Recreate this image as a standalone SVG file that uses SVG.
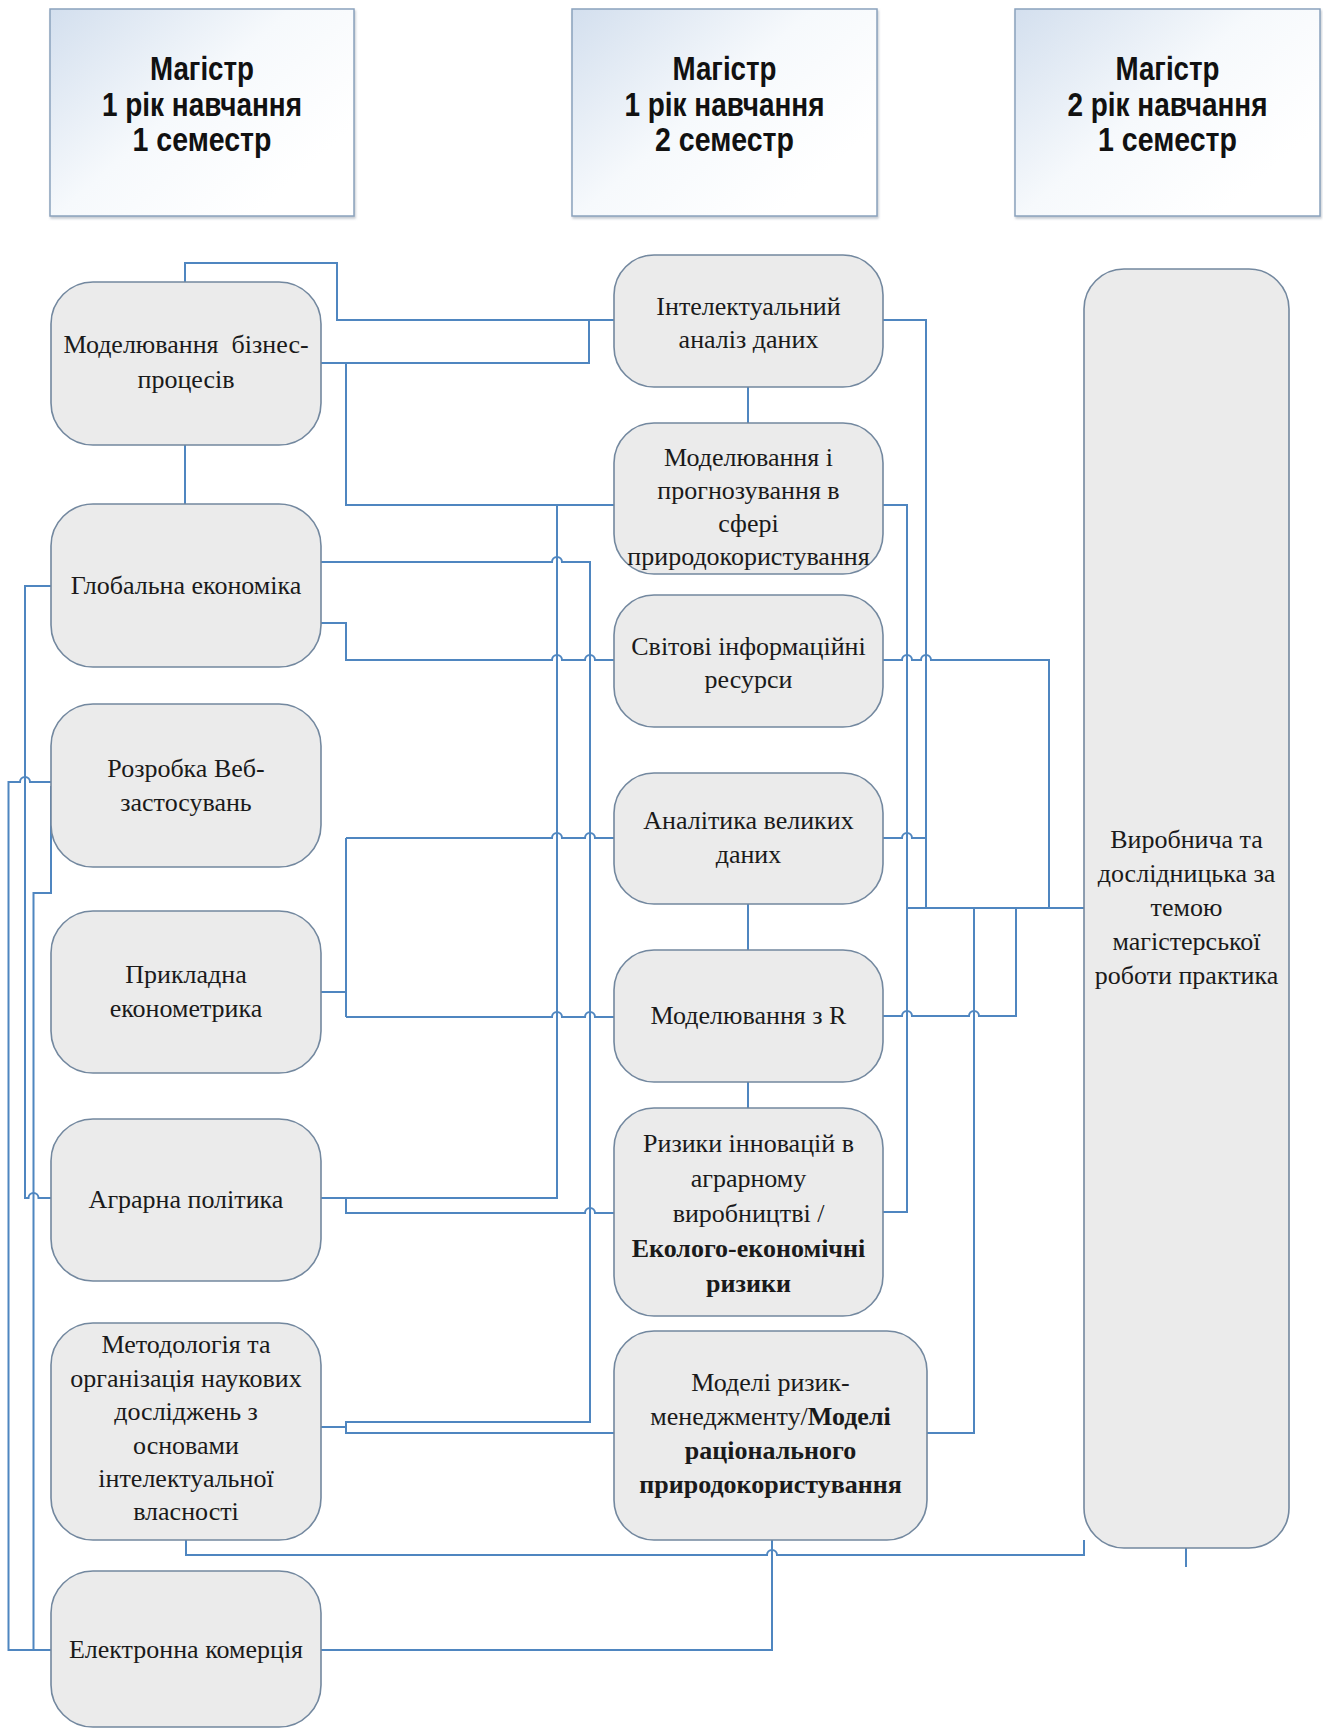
<svg xmlns="http://www.w3.org/2000/svg" width="1323" height="1728" viewBox="0 0 1323 1728">
<style>
.hdr{fill:url(#hg);stroke:#8AA2BD;stroke-width:1.5;filter:url(#sh)}
.hdt{font-family:"Liberation Sans Narrow","Liberation Sans",Arial,sans-serif;font-weight:bold;font-size:34px;fill:#111;text-anchor:middle}
.nd{fill:#EBEBEB;stroke:#73889F;stroke-width:1.6}
.t{font-family:"Liberation Serif","Times New Roman",serif;font-size:26px;fill:#1a1a1a;text-anchor:middle}
.b{font-weight:bold}
.c{fill:none;stroke:#4F86C0;stroke-width:2;stroke-linejoin:miter}
</style>
<defs>
<linearGradient id="hg" x1="0" y1="0" x2="0.9" y2="0.7">
<stop offset="0" stop-color="#D3DFEE"/>
<stop offset="0.55" stop-color="#F6F9FC"/>
<stop offset="1" stop-color="#FFFFFF"/>
</linearGradient>
<filter id="sh" x="-5%" y="-5%" width="110%" height="110%">
<feDropShadow dx="1" dy="2" stdDeviation="1.2" flood-color="#8A95A3" flood-opacity="0.5"/>
</filter>
</defs>
<rect width="1323" height="1728" fill="#FFFFFF"/>

<g id="connectors">
<path class="c" d="M185,282 V263 H337 V320 H614"/>
<path class="c" d="M321,363 H589 V320"/>
<path class="c" d="M346,363 V505 H614"/>
<path class="c" d="M557,505 V1198 H321"/>
<path class="c" d="M185,445 V504"/>
<path class="c" d="M321,562 H552 a5,5 0 0 1 10,0 H590 V1422 H346 V1433 H614"/>
<path class="c" d="M321,1427 H346"/>
<path class="c" d="M321,623 H346 V660 H552 a5,5 0 0 1 10,0 H585 a5,5 0 0 1 10,0 H614"/>
<path class="c" d="M51,586 H25 V1198 H28.5 a5,5 0 0 1 10,0 H51"/>
<path class="c" d="M51,1650 H8.5 V782 H20 a5,5 0 0 1 10,0 H51"/>
<path class="c" d="M51,786 V893 H33.5 V1650"/>
<path class="c" d="M321,992 H346"/>
<path class="c" d="M346,838 V1017"/>
<path class="c" d="M346,838 H552 a5,5 0 0 1 10,0 H585 a5,5 0 0 1 10,0 H614"/>
<path class="c" d="M346,1017 H552 a5,5 0 0 1 10,0 H585 a5,5 0 0 1 10,0 H614"/>
<path class="c" d="M346,1198 V1213 H585 a5,5 0 0 1 10,0 H614"/>
<path class="c" d="M748,387 V423"/>
<path class="c" d="M883,320 H926 V908"/>
<path class="c" d="M883,505 H907 V1212 H883"/>
<path class="c" d="M883,660 H902 a5,5 0 0 1 10,0 H921 a5,5 0 0 1 10,0 H1049 V908"/>
<path class="c" d="M883,838 H902 a5,5 0 0 1 10,0 H926"/>
<path class="c" d="M907,908 H1084"/>
<path class="c" d="M748,904 V950"/>
<path class="c" d="M883,1016 H902 a5,5 0 0 1 10,0 H969 a5,5 0 0 1 10,0 H1016 V908"/>
<path class="c" d="M748,1082 V1108"/>
<path class="c" d="M927,1433 H974 V908"/>
<path class="c" d="M321,1650 H772 V1540"/>
<path class="c" d="M186,1540 V1555 H767 a5,5 0 0 1 10,0 H1084 V1540"/>
<path class="c" d="M1186,1548 V1567"/>
</g>

<g id="h1">
<rect class="hdr" x="50" y="9" width="304" height="207"/>
<text class="hdt" x="202" y="80" textLength="104" lengthAdjust="spacingAndGlyphs">Магістр</text>
<text class="hdt" x="202" y="116" textLength="200" lengthAdjust="spacingAndGlyphs">1 рік навчання</text>
<text class="hdt" x="202" y="151" textLength="139" lengthAdjust="spacingAndGlyphs">1 семестр</text>
</g>
<g id="h2">
<rect class="hdr" x="572" y="9" width="305" height="207"/>
<text class="hdt" x="724.5" y="80" textLength="104" lengthAdjust="spacingAndGlyphs">Магістр</text>
<text class="hdt" x="724.5" y="116" textLength="200" lengthAdjust="spacingAndGlyphs">1 рік навчання</text>
<text class="hdt" x="724.5" y="151" textLength="139" lengthAdjust="spacingAndGlyphs">2 семестр</text>
</g>
<g id="h3">
<rect class="hdr" x="1015" y="9" width="305" height="207"/>
<text class="hdt" x="1167.5" y="80" textLength="104" lengthAdjust="spacingAndGlyphs">Магістр</text>
<text class="hdt" x="1167.5" y="116" textLength="200" lengthAdjust="spacingAndGlyphs">2 рік навчання</text>
<text class="hdt" x="1167.5" y="151" textLength="139" lengthAdjust="spacingAndGlyphs">1 семестр</text>
</g>

<g id="n1">
<rect class="nd" x="51" y="282" width="270" height="163" rx="42"/>
<text class="t" x="186" y="353" xml:space="preserve">Моделювання  бізнес-</text>
<text class="t" x="186" y="388">процесів</text>
</g>
<g id="n2">
<rect class="nd" x="51" y="504" width="270" height="163" rx="42"/>
<text class="t" x="186" y="594">Глобальна економіка</text>
</g>
<g id="n3">
<rect class="nd" x="51" y="704" width="270" height="163" rx="42"/>
<text class="t" x="186" y="777">Розробка Веб-</text>
<text class="t" x="186" y="811">застосувань</text>
</g>
<g id="n4">
<rect class="nd" x="51" y="911" width="270" height="162" rx="42"/>
<text class="t" x="186" y="983">Прикладна</text>
<text class="t" x="186" y="1017">економетрика</text>
</g>
<g id="n5">
<rect class="nd" x="51" y="1119" width="270" height="162" rx="42"/>
<text class="t" x="186" y="1208">Аграрна політика</text>
</g>
<g id="n6">
<rect class="nd" x="51" y="1323" width="270" height="217" rx="42"/>
<text class="t" x="186" y="1353">Методологія та</text>
<text class="t" x="186" y="1387">організація наукових</text>
<text class="t" x="186" y="1420">досліджень з</text>
<text class="t" x="186" y="1454">основами</text>
<text class="t" x="186" y="1487">інтелектуальної</text>
<text class="t" x="186" y="1520">власності</text>
</g>
<g id="n7">
<rect class="nd" x="51" y="1571" width="270" height="156" rx="42"/>
<text class="t" x="186" y="1658">Електронна комерція</text>
</g>

<g id="m1">
<rect class="nd" x="614" y="255" width="269" height="132" rx="40"/>
<text class="t" x="748.5" y="315">Інтелектуальний</text>
<text class="t" x="748.5" y="348">аналіз даних</text>
</g>
<g id="m2">
<rect class="nd" x="614" y="423" width="269" height="151" rx="40"/>
<text class="t" x="748.5" y="466">Моделювання і</text>
<text class="t" x="748.5" y="499">прогнозування в</text>
<text class="t" x="748.5" y="532">сфері</text>
<text class="t" x="748.5" y="565">природокористування</text>
</g>
<g id="m3">
<rect class="nd" x="614" y="595" width="269" height="132" rx="40"/>
<text class="t" x="748.5" y="655">Світові інформаційні</text>
<text class="t" x="748.5" y="688">ресурси</text>
</g>
<g id="m4">
<rect class="nd" x="614" y="773" width="269" height="131" rx="40"/>
<text class="t" x="748.5" y="829">Аналітика великих</text>
<text class="t" x="748.5" y="863">даних</text>
</g>
<g id="m5">
<rect class="nd" x="614" y="950" width="269" height="132" rx="40"/>
<text class="t" x="748.5" y="1024">Моделювання з R</text>
</g>
<g id="m6">
<rect class="nd" x="614" y="1108" width="269" height="208" rx="40"/>
<text class="t" x="748.5" y="1152">Ризики інновацій в</text>
<text class="t" x="748.5" y="1187">аграрному</text>
<text class="t" x="748.5" y="1222">виробництві /</text>
<text class="t b" x="748.5" y="1257">Еколого-економічні</text>
<text class="t b" x="748.5" y="1292">ризики</text>
</g>
<g id="m7">
<rect class="nd" x="614" y="1331" width="313" height="209" rx="40"/>
<text class="t" x="770.5" y="1391">Моделі ризик-</text>
<text class="t" x="770.5" y="1425">менеджменту/<tspan class="b">Моделі</tspan></text>
<text class="t b" x="770.5" y="1459">раціонального</text>
<text class="t b" x="770.5" y="1493">природокористування</text>
</g>
<g id="r1">
<rect class="nd" x="1084" y="269" width="205" height="1279" rx="40"/>
<text class="t" x="1186.5" y="848">Виробнича та</text>
<text class="t" x="1186.5" y="882">дослідницька за</text>
<text class="t" x="1186.5" y="916">темою</text>
<text class="t" x="1186.5" y="950">магістерської</text>
<text class="t" x="1186.5" y="984">роботи практика</text>
</g>
</svg>
